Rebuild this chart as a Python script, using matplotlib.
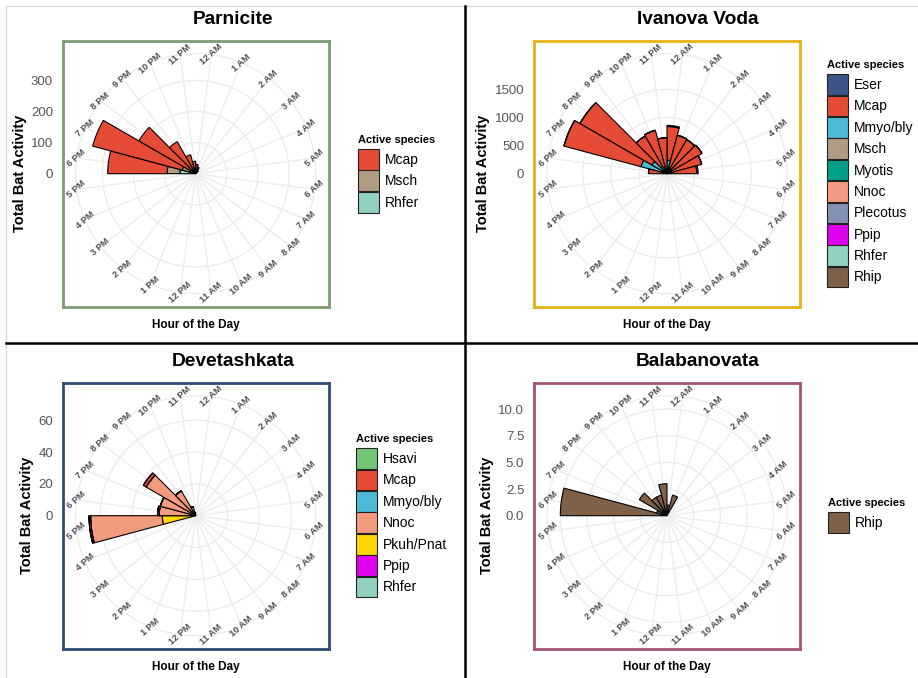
import numpy as np
import matplotlib.pyplot as plt
from matplotlib.patches import Patch
from matplotlib.lines import Line2D

plt.rcParams['font.family'] = ['Liberation Sans', 'DejaVu Sans']

#------------------------------------------------------------------------------
# data: bat passes per hour (index 0 = 12 AM ... 23 = 11 PM)

hours = ['12 AM', '1 AM', '2 AM', '3 AM', '4 AM', '5 AM', '6 AM', '7 AM',
         '8 AM', '9 AM', '10 AM', '11 AM', '12 PM', '1 PM', '2 PM', '3 PM',
         '4 PM', '5 PM', '6 PM', '7 PM', '8 PM', '9 PM', '10 PM', '11 PM']

#                 AM: 12  1  2  3  4  5  6  7  8  9 10 11 | PM: 12 1 2 3 4 5  6   7   8   9  10  11
parnicite_species = ['Mcap', 'Msch', 'Rhfer']
parnicite_mcap  = [30, 22, 12, 0, 0, 0, 0, 0, 0, 0, 0, 0,  0, 0, 0, 0, 0, 0, 191, 298, 196, 110, 58, 40]
parnicite_msch  = [0, 0, 0, 0, 0, 0, 0, 0, 0, 0, 0, 0,     0, 0, 0, 0, 0, 0, 41, 25, 10, 6, 3, 0]
parnicite_rhfer = [0, 0, 0, 0, 0, 0, 0, 0, 0, 0, 0, 0,     0, 0, 0, 0, 0, 0, 51, 20, 5, 3, 2, 0]

ivanova_species = ['Eser', 'Mcap', 'Mmyo/bly', 'Msch', 'Myotis', 'Nnoc',
                   'Plecotus', 'Ppip', 'Rhfer', 'Rhip']
ivanova_eser     = [20, 0, 0, 0, 0, 25, 0, 0, 0, 0, 0, 0,            0, 0, 0, 0, 0, 0, 0, 0, 0, 0, 0, 0]
ivanova_mcap     = [600, 600, 620, 630, 560, 420, 0, 0, 0, 0, 0, 0,  0, 0, 0, 0, 0, 0, 300, 1420, 1480, 620, 680, 560]
ivanova_mmyo     = [200, 60, 40, 50, 50, 80, 0, 0, 0, 0, 0, 0,       0, 0, 0, 0, 0, 0, 20, 380, 230, 110, 80, 50]
ivanova_msch     = [0, 0, 0, 0, 0, 0, 0, 0, 0, 0, 0, 0,              0, 0, 0, 0, 0, 0, 0, 0, 0, 0, 0, 0]
ivanova_myotis   = [30, 40, 30, 30, 20, 20, 0, 0, 0, 0, 0, 0,        0, 0, 0, 0, 0, 0, 10, 50, 40, 30, 25, 20]
ivanova_nnoc     = [0, 0, 0, 0, 0, 0, 0, 0, 0, 0, 0, 0,              0, 0, 0, 0, 0, 0, 0, 9, 10, 0, 0, 0]
ivanova_plecotus = [0, 0, 0, 0, 0, 0, 0, 0, 0, 0, 0, 0,              0, 0, 0, 0, 0, 0, 0, 10, 0, 0, 0, 0]
ivanova_ppip     = [0, 0, 0, 0, 0, 0, 0, 0, 0, 0, 0, 0,              0, 0, 0, 0, 0, 0, 0, 0, 0, 0, 0, 0]
ivanova_rhfer    = [10, 10, 10, 10, 10, 10, 0, 0, 0, 0, 0, 0,        0, 0, 0, 0, 0, 0, 0, 30, 30, 15, 15, 10]
ivanova_rhip     = [0, 0, 0, 0, 0, 0, 0, 0, 0, 0, 0, 0,              0, 0, 0, 0, 0, 0, 0, 0, 0, 0, 0, 0]

devet_species = ['Hsavi', 'Mcap', 'Mmyo/bly', 'Nnoc', 'Pkuh/Pnat', 'Ppip', 'Rhfer']
devet_hsavi = [0, 0, 0, 0, 0, 0, 0, 0, 0, 0, 0, 0,  0, 0, 0, 0, 0, 0, 0, 0, 0, 0, 0, 0]
devet_mcap  = [0, 0, 0, 0, 0, 0, 0, 0, 0, 0, 0, 0,  0, 0, 0, 0, 0, 1, 1, 0, 2, 0, 0, 0]
devet_mmyo  = [0, 0, 0, 0, 0, 0, 0, 0, 0, 0, 0, 0,  0, 0, 0, 0, 0, 0, 0, 0, 0, 0, 0, 0]
devet_nnoc  = [0, 0, 0, 0, 0, 0, 0, 0, 0, 0, 0, 0,  0, 0, 0, 0, 0, 45, 23, 23, 36, 18, 6, 2]
devet_pkuh  = [0, 0, 0, 0, 0, 0, 0, 0, 0, 0, 0, 0,  0, 0, 0, 0, 0, 21, 0, 0, 0, 0, 0, 0]
devet_ppip  = [0, 0, 0, 0, 0, 0, 0, 0, 0, 0, 0, 0,  0, 0, 0, 0, 0, 0, 0, 0, 0, 0, 0, 0]
devet_rhfer = [0, 0, 0, 0, 0, 0, 0, 0, 0, 0, 0, 0,  0, 0, 0, 0, 0, 0, 0, 0, 0, 0, 0, 0]

balab_species = ['Rhip']
balab_rhip = [1, 2, 0, 0, 0, 0, 0, 0, 0, 0, 0, 0,  0, 0, 0, 0, 0, 0, 10, 1, 3, 2, 2, 3]

species_colours = {
    'Eser': '#3C5488', 'Hsavi': '#74C476', 'Mcap': '#E64B35',
    'Mmyo/bly': '#4DBBD5', 'Msch': '#B09C85', 'Myotis': '#00A087',
    'Nnoc': '#F39B7F', 'Pkuh/Pnat': '#FFD700', 'Plecotus': '#8491B4',
    'Ppip': '#E000F0', 'Rhfer': '#91D1C2', 'Rhip': '#7E6148',
}

#------------------------------------------------------------------------------
# layout helpers (pixel boxes measured from the top left corner)

W_FIG, H_FIG = 918, 678
fig = plt.figure(figsize=(W_FIG / 100, H_FIG / 100), dpi=100)


def fig_rect(x, y, w, h):
    return [x / W_FIG, 1 - (y + h) / H_FIG, w / W_FIG, h / H_FIG]


def rose(x0, y0, title, title_x, species, counts, breaks, fmt, border, legend_x):
    size = 266
    counts = np.array(counts, dtype=float)
    top = counts.sum(axis=0).max()     # tallest stack fills 0.4 of the panel
    r_outer = top * 1.125              # outer ring sits at 0.45
    cx, cy = x0 + size / 2, y0 + size / 2

    # square panel that carries the radial value axis on its left side
    frame = fig.add_axes(fig_rect(x0, y0, size, size))
    frame.set_xlim(-1, 1)
    frame.set_ylim(-top * 1.25, top * 1.25)
    frame.set_xticks([])
    frame.set_yticks(breaks)
    frame.set_yticklabels([fmt.format(b) for b in breaks])
    frame.tick_params(axis='y', length=0, pad=7, labelsize=9.5, labelcolor='#555555')
    for s in frame.spines.values():
        s.set_color(border)
        s.set_linewidth(2)
    frame.set_ylabel('Total Bat Activity', fontsize=10.5, fontweight='bold', labelpad=3)
    frame.set_xlabel('Hour of the Day', fontsize=8.5, fontweight='bold', labelpad=9)
    fig.text(title_x / W_FIG, 1 - (y0 - 21) / H_FIG, title,
             ha='center', va='center', fontsize=13.8, fontweight='bold')

    # rose of stacked hourly bars
    ax = fig.add_axes(fig_rect(cx - 120, cy - 120, 240, 240), projection='polar')
    ax.set_facecolor('none')
    ax.set_theta_zero_location('N')
    ax.set_theta_direction(-1)
    theta = (np.arange(24) + 0.5) * 2 * np.pi / 24
    bottom = np.zeros(24)
    for name, values in reversed(list(zip(species, counts))):
        ax.bar(theta, values, width=2 * np.pi / 24, bottom=bottom,
               color=species_colours[name], edgecolor='black', linewidth=0.8)
        bottom = bottom + values
    ax.set_ylim(0, r_outer)
    ax.set_yticks(breaks)
    ax.set_yticklabels([])
    ax.set_xticks(theta)
    ax.set_xticklabels([])
    ax.tick_params(length=0)
    ax.grid(color='#EBEBEB', linewidth=0.9)
    ax.spines['polar'].set_color('#EBEBEB')
    ax.spines['polar'].set_linewidth(0.9)
    ax.set_axisbelow(True)
    for t, lab in zip(theta, hours):
        ax.text(t, r_outer, lab, rotation=42, rotation_mode='anchor',
                ha='center', va='center', fontsize=6.6, fontweight='bold',
                color='#4D4D4D', clip_on=False)

    handles = [Patch(facecolor=species_colours[n], edgecolor='#222222', linewidth=0.8, label=n)
               for n in species]
    leg = frame.legend(handles=handles, loc='center left',
                       bbox_to_anchor=(legend_x / W_FIG, 1 - cy / H_FIG),
                       bbox_transform=fig.transFigure, frameon=False,
                       title='Active species', alignment='left',
                       title_fontproperties={'weight': 'bold', 'size': 8},
                       fontsize=10, handlelength=1.48, handleheight=1.915,
                       labelspacing=0.05, handletextpad=0.45,
                       borderpad=0, borderaxespad=0)
    leg._legend_box.sep = 3


rose(62.7, 40.7, 'Parnicite', 233, parnicite_species,
     [parnicite_mcap, parnicite_msch, parnicite_rhfer],
     [0, 100, 200, 300], '{:.0f}', '#7E9C74', 358)

rose(534, 40.7, 'Ivanova Voda', 698, ivanova_species,
     [ivanova_eser, ivanova_mcap, ivanova_mmyo, ivanova_msch, ivanova_myotis,
      ivanova_nnoc, ivanova_plecotus, ivanova_ppip, ivanova_rhfer, ivanova_rhip],
     [0, 500, 1000, 1500], '{:.0f}', '#E7B416', 827)

rose(62.7, 382.7, 'Devetashkata', 233, devet_species,
     [devet_hsavi, devet_mcap, devet_mmyo, devet_nnoc, devet_pkuh, devet_ppip, devet_rhfer],
     [0, 20, 40, 60], '{:.0f}', '#2E4C74', 356)

rose(534, 382.7, 'Balabanovata', 698, balab_species, [balab_rhip],
     [0, 2.5, 5, 7.5, 10], '{:.1f}', '#A35472', 828)

# cell borders
fig.add_artist(Line2D([5.5 / W_FIG, 1], [1 - 5.5 / H_FIG] * 2, color='#D9D9D9', lw=1))
fig.add_artist(Line2D([5.5 / W_FIG] * 2, [1 - 5.5 / H_FIG, 0], color='#D9D9D9', lw=1))
fig.add_artist(Line2D([465 / W_FIG] * 2, [1 - 6 / H_FIG, 0], color='black', lw=1.8))
fig.add_artist(Line2D([5.5 / W_FIG, 1], [1 - 343 / H_FIG] * 2, color='black', lw=1.8))

fig.savefig('out.png', dpi=100)
